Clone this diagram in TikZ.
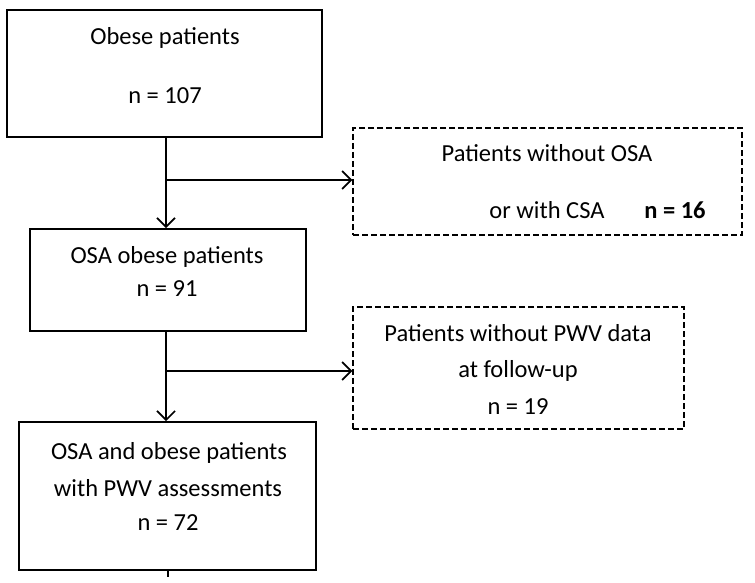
\documentclass[tikz,border=0pt]{standalone}
\usepackage{fontspec}
\setmainfont{Carlito}
\usetikzlibrary{arrows.meta}
\begin{document}
\begin{tikzpicture}[x=1pt,y=-1pt,
  solidbox/.style={draw, line width=1.7pt, inner sep=0pt},
  dashbox/.style={draw, line width=1.4pt, dash pattern=on 6pt off 3pt, inner sep=0pt},
  txt/.style={font=\fontsize{24.5}{28}\selectfont, inner sep=0pt},
  arr/.style={line width=1.7pt, -{Straight Barb[length=9pt,width=18pt,line width=1.7pt]}},
  ]
\useasboundingbox (0,0) rectangle (755,583);
% boxes
\node[solidbox, minimum width=315pt, minimum height=127pt] (b1) at (164.5,73.5) {};
\node[solidbox, minimum width=276pt, minimum height=102pt] (b2) at (168,280) {};
\node[solidbox, minimum width=297pt, minimum height=148pt] (b3) at (167.5,496) {};
\node[dashbox, minimum width=389pt, minimum height=107pt] (d1) at (547.5,181.5) {};
\node[dashbox, minimum width=331pt, minimum height=122pt] (d2) at (518.5,368) {};
% texts
\node[txt] (t11) at (165,38) {Obese patients};
\node[txt] (t12) at (165,96) {n = 107};
\node[txt] (t21) at (167,257) {OSA obese patients};
\node[txt] (t22) at (167,289) {n = 91};
\node[txt] (t31) at (169,453) {OSA and obese patients};
\node[txt] (t32) at (168,488) {with PWV assessments};
\node[txt] (t33) at (168,523) {n = 72};
\node[txt] (u11) at (547,153) {Patients without OSA};
\node[txt] (u12) at (547,210) {or with CSA};
\node[txt, font=\fontsize{24.5}{28}\selectfont\bfseries] (u13) at (675,210) {n = 16};
\node[txt] (u21) at (518,333) {Patients without PWV data};
\node[txt] (u22) at (518,371) {at follow-up};
\node[txt] (u23) at (518,407) {n = 19};
% connectors
\coordinate (j1) at (166,180);
\coordinate (j2) at (166,371);
\coordinate (tk) at (168,577);
\draw[arr] (b1.south -| j1) -- (b2.north -| j1);
\draw[arr] (j1) -- (j1 -| d1.west);
\draw[arr] (b2.south -| j2) -- (b3.north -| j2);
\draw[arr] (j2) -- (j2 -| d2.west);
\draw[line width=1.2pt] (b3.south -| tk) -- (tk);
\end{tikzpicture}
\end{document}
